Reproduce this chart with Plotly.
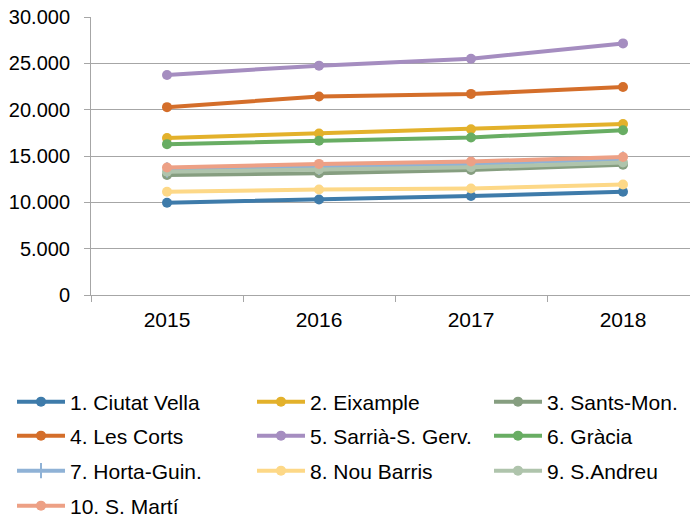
import plotly.graph_objects as go

years = ["2015", "2016", "2017", "2018"]

ciutat_vella = [9950, 10300, 10680, 11150]
eixample = [16950, 17430, 17880, 18450]
sants_mon = [12950, 13150, 13500, 14050]
les_corts = [20270, 21420, 21700, 22450]
sarria = [23750, 24750, 25500, 27150]
gracia = [16280, 16650, 17000, 17780]
horta = [13500, 13800, 14150, 14650]
nou_barris = [11150, 11380, 11500, 11920]
sant_andreu = [13300, 13550, 13780, 14300]
sant_marti = [13750, 14150, 14400, 14900]

names = ["1. Ciutat Vella", "2. Eixample", "3. Sants-Mon.", "4. Les Corts",
         "5. Sarrià-S. Gerv.", "6. Gràcia", "7. Horta-Guin.", "8. Nou Barris",
         "9. S.Andreu", "10. S. Martí"]
series = [ciutat_vella, eixample, sants_mon, les_corts, sarria, gracia,
          horta, nou_barris, sant_andreu, sant_marti]
colors = ["#3E7BAA", "#E3B12B", "#869E80", "#D46E2A", "#A58DC0", "#68AD63",
          "#8FB2D6", "#FDD887", "#AFC4AC", "#EDA085"]

# legend grid: 3 columns, 4 rows (layout positions in pixels)
col_x = [18, 258, 495]
row_y = [402, 436, 471, 506]

fig = go.Figure()
legend_layout = {}
for i, (name, vals, col) in enumerate(zip(names, series, colors)):
    lid = "legend" if i == 0 else f"legend{i + 1}"
    if name.startswith("7."):
        marker = dict(symbol="line-ns", size=11, color=col, line=dict(color=col, width=2))
    else:
        marker = dict(symbol="circle", size=10, color=col)
    fig.add_trace(go.Scatter(x=years, y=vals, name=name, mode="lines+markers",
                             line=dict(color=col, width=4), marker=marker,
                             legend=lid))
    cx = col_x[i % 3] - 14
    cy = row_y[i // 3] - 28.5
    legend_layout[lid] = dict(orientation="h", xref="container", yref="container",
                              x=cx / 698, y=1 - cy / 520, xanchor="left", yanchor="top",
                              font=dict(size=21, color="#000000"), itemwidth=48,
                              bgcolor="rgba(0,0,0,0)")

fig.update_layout(
    template="none",
    width=698, height=520,
    margin=dict(l=83, r=7, t=9, b=233, autoexpand=False),
    paper_bgcolor="white", plot_bgcolor="white",
    separators=",.",
    font=dict(family="Liberation Sans, Arial, sans-serif", size=16, color="#000000"),
    showlegend=True,
    **legend_layout,
)
fig.update_xaxes(type="category", range=[-0.5, 3.5], tickson="boundaries",
                 ticks="outside", ticklen=6, tickcolor="#A6A6A6", showline=True,
                 linecolor="#A6A6A6", linewidth=1, showgrid=False, automargin=False,
                 ticklabelstandoff=6, tickfont=dict(size=21), ticklabeloverflow="allow")
fig.update_yaxes(range=[0, 30000], dtick=5000, tickformat=",d", ticks="outside",
                 ticklen=6, tickcolor="#A6A6A6", showline=True, linecolor="#A6A6A6",
                 showgrid=True, gridcolor="#A6A6A6", gridwidth=1, zeroline=False,
                 automargin=False, ticklabelstandoff=10, tickfont=dict(size=20),
                 ticklabeloverflow="allow")

fig.write_html("out.html")
